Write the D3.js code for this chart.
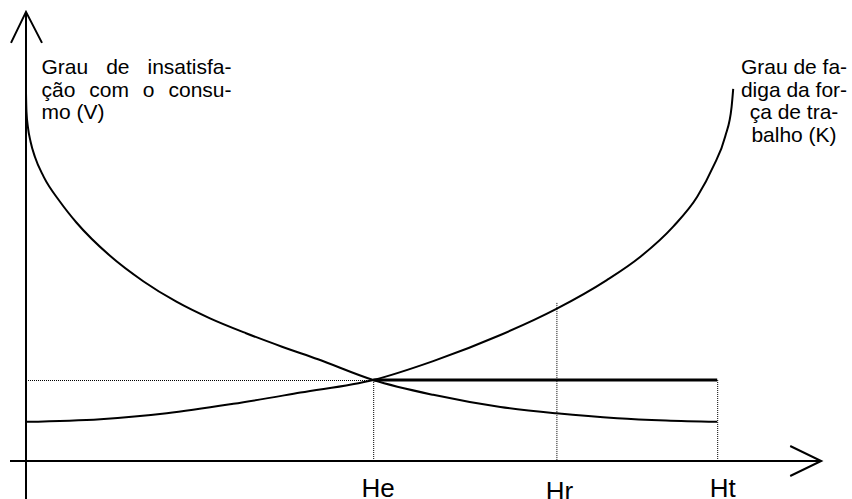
<!DOCTYPE html>
<html>
<head>
<meta charset="utf-8">
<script src="https://cdn.jsdelivr.net/npm/d3@7"></script>
<style>
  html, body { margin: 0; padding: 0; background: #fff; }
  svg { display: block; }
  text { font-family: "Liberation Sans", Arial, Helvetica, sans-serif; fill: #000; }
</style>
</head>
<body>
<svg id="chart" width="852" height="499"></svg>
<script>
// ---- data ----
// Grau de insatisfação com o consumo (V): decreasing curve
const vHours = [0, 0.006, 0.024, 0.058, 0.111, 0.22, 0.43, 0.63, 1.05, 1.47, 1.88, 2.30, 2.75, 3.20, 3.65, 4.34, 5.09, 5.93, 6.63, 7.39, 8.00, 8.64];
const vLevel = [8.18, 7.76, 7.42, 7.09, 6.76, 6.32, 5.75, 5.30, 4.56, 3.99, 3.54, 3.17, 2.84, 2.54, 2.26, 1.80, 1.47, 1.20, 1.06, 0.95, 0.90, 0.87];
// Grau de fadiga da força de trabalho (K): increasing curve
const kHours = [0, 0.93, 1.76, 2.59, 3.43, 4.34, 5.09, 5.93, 6.63, 7.26, 7.68, 8.09, 8.39, 8.59, 8.74, 8.82, 8.84];
const kLevel = [0.87, 0.93, 1.06, 1.27, 1.52, 1.80, 2.22, 2.80, 3.38, 4.02, 4.54, 5.21, 5.87, 6.54, 7.21, 7.87, 8.27];
// marked hours on the horizontal axis
const markNames = ["He", "Hr", "Ht"];
const markHours = [4.34, 6.63, 8.64];
const equilibriumLevel = 1.80;
const hrLevel = 3.38;
// axis extents
const xAxisExtent = [-0.2, 9.94];
const yAxisExtent = [-0.85, 9.98];
// label texts
const leftLabel = ["Grau de insatisfa-", "ção com o consu-", "mo (V)"];
const rightLabel = ["Grau de fa-", "diga da for-", "ça de tra-", "balho (K)"];

// ---- drawing ----
const svg = d3.select("#chart");
const x = d3.scaleLinear().domain([0, 10]).range([26, 826]);
const y = d3.scaleLinear().domain([0, 10]).range([461, 11]);

const line = d3.line().x(d => x(d[0])).y(d => y(d[1])).curve(d3.curveMonotoneX);

// dotted guide lines
const dotted = svg.append("g").attr("stroke", "#000").attr("stroke-width", 1)
  .attr("stroke-dasharray", "1,1").attr("fill", "none");
dotted.append("line")
  .attr("x1", x(0)).attr("x2", x(markHours[0]))
  .attr("y1", y(equilibriumLevel) + 0.5).attr("y2", y(equilibriumLevel) + 0.5);
dotted.append("line")
  .attr("x1", x(markHours[0]) + 0.5).attr("x2", x(markHours[0]) + 0.5)
  .attr("y1", y(equilibriumLevel)).attr("y2", y(0));
dotted.append("line")
  .attr("x1", x(markHours[1]) + 0.5).attr("x2", x(markHours[1]) + 0.5)
  .attr("y1", y(hrLevel) - 6).attr("y2", y(0));
dotted.append("line")
  .attr("x1", x(markHours[2]) + 0.5).attr("x2", x(markHours[2]) + 0.5)
  .attr("y1", y(equilibriumLevel)).attr("y2", y(0));

// equilibrium horizontal (thick)
svg.append("line")
  .attr("x1", x(markHours[0])).attr("x2", x(markHours[2]))
  .attr("y1", y(equilibriumLevel)).attr("y2", y(equilibriumLevel))
  .attr("stroke", "#000").attr("stroke-width", 3);

// curves
svg.append("path").datum(d3.zip(vHours, vLevel))
  .attr("d", line).attr("fill", "none").attr("stroke", "#000").attr("stroke-width", 2);
svg.append("path").datum(d3.zip(kHours, kLevel))
  .attr("d", line).attr("fill", "none").attr("stroke", "#000").attr("stroke-width", 2);

// axes
const axes = svg.append("g").attr("stroke", "#000").attr("stroke-width", 2).attr("fill", "none");
axes.append("line").attr("x1", x(0)).attr("x2", x(0))
  .attr("y1", y(yAxisExtent[0])).attr("y2", y(yAxisExtent[1]));
axes.append("line").attr("x1", x(xAxisExtent[0])).attr("x2", x(xAxisExtent[1]))
  .attr("y1", y(0)).attr("y2", y(0));
// arrowheads
const yTipX = x(0), yTipY = y(yAxisExtent[1]);
axes.append("path").attr("d", `M${yTipX - 15},${yTipY + 31}L${yTipX},${yTipY}L${yTipX + 16},${yTipY + 31}`);
const xTipX = x(xAxisExtent[1]), xTipY = y(0);
axes.append("path").attr("d", `M${xTipX - 31},${xTipY - 15}L${xTipX},${xTipY}L${xTipX - 31},${xTipY + 15}`);

// left label (justified)
function justified(lines, x0, width, baselines, justifyCount) {
  lines.forEach((t, i) => {
    const el = svg.append("text").attr("x", x0).attr("y", baselines[i])
      .attr("font-size", 21).text(t);
    if (i < justifyCount) {
      const w = el.node().getComputedTextLength();
      const spaces = (t.match(/ /g) || []).length;
      if (spaces > 0) el.attr("word-spacing", (width - w) / spaces);
    }
  });
}
justified(leftLabel, 41.5, 190, [74, 96.5, 119], 2);

// right label (centered)
svg.append("g").selectAll("text").data(rightLabel).join("text")
  .attr("x", 794).attr("y", (d, i) => 74 + i * 22.6)
  .attr("text-anchor", "middle").attr("font-size", 21).text(d => d);

// mark labels
const markDx = [5, 3, 5.5];
const markBase = [497, 500, 497];
svg.append("g").selectAll("text").data(markNames).join("text")
  .attr("x", (d, i) => x(markHours[i]) + markDx[i])
  .attr("y", (d, i) => markBase[i])
  .attr("text-anchor", "middle").attr("font-size", 26).text(d => d);
</script>
</body>
</html>
